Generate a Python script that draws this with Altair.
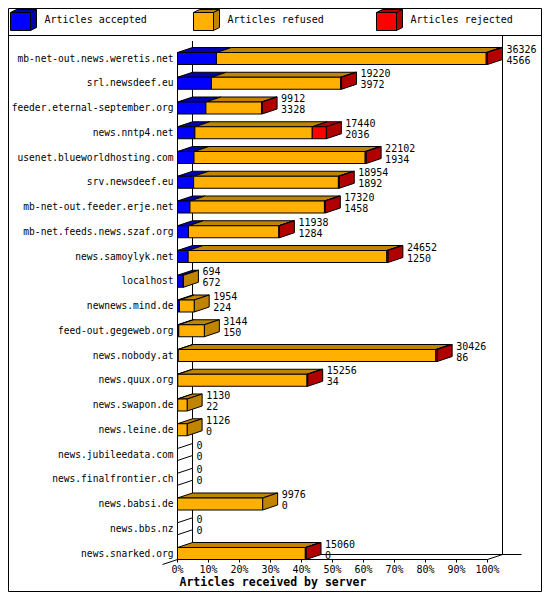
import altair as alt
import pandas as pd

# values (offered / accepted are printed; refused / rejected)
hosts = [
    "mb-net-out.news.weretis.net", "srl.newsdeef.eu", "feeder.eternal-september.org",
    "news.nntp4.net", "usenet.blueworldhosting.com", "srv.newsdeef.eu",
    "mb-net-out.feeder.erje.net", "mb-net.feeds.news.szaf.org", "news.samoylyk.net",
    "localhost", "newnews.mind.de", "feed-out.gegeweb.org", "news.nobody.at",
    "news.quux.org", "news.swapon.de", "news.leine.de", "news.jubileedata.com",
    "news.finalfrontier.ch", "news.babsi.de", "news.bbs.nz", "news.snarked.org",
]
offered = [36326, 19220, 9912, 17440, 22102, 18954, 17320, 11938, 24652, 694, 1954,
           3144, 30426, 15256, 1130, 1126, 0, 0, 9976, 0, 15060]
accepted = [4566, 3972, 3328, 2036, 1934, 1892, 1458, 1284, 1250, 672, 224,
            150, 86, 34, 22, 0, 0, 0, 0, 0, 0]
refused = [31610, 15148, 6524, 13754, 20058, 16962, 15762, 10594, 23282, 22, 1730,
           2994, 30190, 15142, 1108, 1126, 0, 0, 9976, 0, 14980]
rejected = [150, 100, 60, 1650, 110, 100, 100, 60, 120, 0, 0,
            0, 150, 80, 0, 0, 0, 0, 0, 0, 80]
series = ["Articles accepted", "Articles refused", "Articles rejected"]
front_colors = ["#0000ff", "#ffb000", "#ff0000"]
dark_colors = ["#0000b0", "#bf8400", "#b00000"]
tick_pcts = [0, 10, 20, 30, 40, 50, 60, 70, 80, 90, 100]

MONO = "DejaVu Sans Mono"
W, H = 534, 584                  # page (with its 8px margins) must stay inside 550x605
X0, X100 = 169.5, 479.5          # where the front 0% / 100% sit
PPP = (X100 - X0) / 100
ROW0, PITCH = 50.5, 24.75
DX = 15 / PPP                    # 3D depth, in %
DY = 5 / PITCH                   # 3D depth, in rows
HALF = 6 / PITCH                 # half height of a bar's front face
FLOOR = len(hosts) - 1 + HALF
SEP = 27.5                       # legend separator, px


def row_at(px):
    return (px - ROW0) / PITCH


xs = alt.Scale(domain=[-X0 / PPP, (W - X0) / PPP], nice=False, zero=False)
ys = alt.Scale(domain=[row_at(0), row_at(H)], nice=False, zero=False, reverse=True)
pxs = alt.Scale(domain=[0, W], nice=False, zero=False)
pys = alt.Scale(domain=[0, H], nice=False, zero=False, reverse=True)

top_total = max(offered)
front, topf, side, labels = [], [], [], []
for i, h in enumerate(hosts):
    a, last = 0.0, None
    for k, vals in enumerate((accepted, refused, rejected)):
        if vals[i] <= 0:
            continue
        b = a + vals[i] / top_total * 100
        front.append(dict(x=a, x2=b, y=i - HALF, y2=i + HALF, fill=front_colors[k]))
        pid = f"{i}-{k}"
        topf += [dict(pid=pid, y=i - HALF, x=a, x2=b, fill=dark_colors[k]),
                 dict(pid=pid, y=i - HALF - DY, x=a + DX, x2=b + DX, fill=dark_colors[k])]
        a, last = b, k
    fill = dark_colors[last] if last is not None else "white"
    side += [dict(pid=str(i), x=a, y=i - HALF, y2=i + HALF, fill=fill),
             dict(pid=str(i), x=a + DX, y=i - HALF - DY, y2=i + HALF - DY, fill=fill)]
    labels.append(dict(row=i, x0=0, host=h, end=a + DX,
                       offered=str(offered[i]), accepted=str(accepted[i])))
labels = pd.DataFrame(labels)

# walls and floor of the 3D box
frame_lines = pd.DataFrame([
    dict(x=0, y=-HALF, x2=0, y2=FLOOR),
    dict(x=DX, y=row_at(33), x2=DX, y2=FLOOR - DY),
    dict(x=100 + DX, y=row_at(SEP), x2=100 + DX, y2=FLOOR - DY),
    dict(x=DX, y=FLOOR - DY, x2=100 + DX + 19 / PPP, y2=FLOOR - DY),
    dict(x=0, y=FLOOR, x2=100, y2=FLOOR),
    dict(x=100, y=FLOOR, x2=100 + DX, y2=FLOOR - DY),
    dict(x=-DX, y=FLOOR + DY, x2=DX, y2=FLOOR - DY),
])
ticks = pd.DataFrame(dict(pct=tick_pcts, label=[f"{t}%" for t in tick_pcts],
                          y=FLOOR, y2=FLOOR + 3 / PITCH))


def X(f="x"):
    return alt.X(f"{f}:Q", scale=xs, axis=None, stack=None)


def Y(f="y"):
    return alt.Y(f"{f}:Q", scale=ys, axis=None, stack=None)


fill = alt.Fill("fill:N", scale=None, legend=None)

walls = alt.Chart(frame_lines).mark_rule(color="black", strokeWidth=1).encode(
    x=X(), y=Y(), x2="x2", y2="y2")
tops = alt.Chart(pd.DataFrame(topf)).mark_area(
    orient="horizontal", stroke="black", strokeWidth=1).encode(
    y=Y(), x=X(), x2="x2", detail="pid:N", fill=fill)
sides = alt.Chart(pd.DataFrame(side)).mark_area(
    orient="vertical", stroke="black", strokeWidth=1).encode(
    x=X(), y=Y(), y2="y2", detail="pid:N", fill=fill)
fronts = alt.Chart(pd.DataFrame(front)).mark_rect(stroke="black", strokeWidth=1).encode(
    x=X(), x2="x2", y=Y(), y2="y2", fill=fill)

host_text = alt.Chart(labels).mark_text(
    align="right", baseline="middle", dx=-4, font=MONO, fontSize=9.6, color="black").encode(
    x=X("x0"), y=Y("row"), text="host:N")
off_text = alt.Chart(labels).mark_text(
    align="left", baseline="middle", dx=4, dy=-9, font=MONO, fontSize=10, color="black").encode(
    x=X("end"), y=Y("row"), text="offered:N")
acc_text = alt.Chart(labels).mark_text(
    align="left", baseline="middle", dx=4, dy=2, font=MONO, fontSize=10, color="black").encode(
    x=X("end"), y=Y("row"), text="accepted:N")

tick_rules = alt.Chart(ticks).mark_rule(color="black", strokeWidth=1).encode(
    x=X("pct"), y=Y(), y2="y2")
tick_text = alt.Chart(ticks).mark_text(
    align="center", baseline="middle", dy=10, font=MONO, fontSize=10, color="black").encode(
    x=X("pct"), y=Y(), text="label:N")
x_title = alt.Chart(pd.DataFrame(dict(x=[0], y=[FLOOR], t=["Articles received by server"]))).mark_text(
    align="left", baseline="middle", dx=2, dy=23, font=MONO, fontSize=11.5,
    fontWeight="bold", color="black").encode(x=X(), y=Y(), text="t:N")

# legend with 3D swatches, plus the outer frame, in pixel units
leg_front, leg_top, leg_side, leg_text = [], [], [], []
for k, name in enumerate(series):
    x = 2.5 + 183 * k
    leg_front.append(dict(x=x, x2=x + 20, y=4.5, y2=22.5, fill=front_colors[k]))
    leg_top += [dict(pid=k, y=4.5, x=x, x2=x + 20, fill=dark_colors[k]),
                dict(pid=k, y=1.5, x=x + 6, x2=x + 26, fill=dark_colors[k])]
    leg_side += [dict(pid=k, x=x + 20, y=4.5, y2=22.5, fill=dark_colors[k]),
                 dict(pid=k, x=x + 26, y=1.5, y2=19.5, fill=dark_colors[k])]
    leg_text.append(dict(x=x + 34, y=12, name=name))

PX = alt.X("x:Q", scale=pxs, axis=None, stack=None)
PY = alt.Y("y:Q", scale=pys, axis=None, stack=None)
leg_tops = alt.Chart(pd.DataFrame(leg_top)).mark_area(
    orient="horizontal", stroke="black", strokeWidth=1).encode(
    y=PY, x=PX, x2="x2", detail="pid:N", fill=fill)
leg_sides = alt.Chart(pd.DataFrame(leg_side)).mark_area(
    orient="vertical", stroke="black", strokeWidth=1).encode(
    x=PX, y=PY, y2="y2", detail="pid:N", fill=fill)
leg_fronts = alt.Chart(pd.DataFrame(leg_front)).mark_rect(stroke="black", strokeWidth=1).encode(
    x=PX, x2="x2", y=PY, y2="y2", fill=fill)
leg_labels = alt.Chart(pd.DataFrame(leg_text)).mark_text(
    align="left", baseline="middle", font=MONO, fontSize=10, color="black").encode(
    x=PX, y=PY, text="name:N")
border = alt.Chart(pd.DataFrame([
    dict(x=0.5, y=0.5, x2=W - 0.5, y2=0.5),
    dict(x=0.5, y=H - 0.5, x2=W - 0.5, y2=H - 0.5),
    dict(x=0.5, y=0.5, x2=0.5, y2=H - 0.5),
    dict(x=W - 0.5, y=0.5, x2=W - 0.5, y2=H - 0.5),
    dict(x=0.5, y=SEP, x2=W - 0.5, y2=SEP),
])).mark_rule(color="black", strokeWidth=1).encode(x=PX, y=PY, x2="x2", y2="y2")

chart = (
    alt.layer(walls, tops, sides, fronts, host_text, off_text, acc_text,
              tick_rules, tick_text, x_title,
              leg_tops, leg_sides, leg_fronts, leg_labels, border)
    .resolve_scale(x="independent", y="independent")
    .properties(width=W, height=H, padding=0, background="white",
                autosize=alt.AutoSizeParams(type="none"))
    .configure_view(stroke=None)
)

chart.save("out.html", embed_options={"renderer": "svg", "actions": False})
